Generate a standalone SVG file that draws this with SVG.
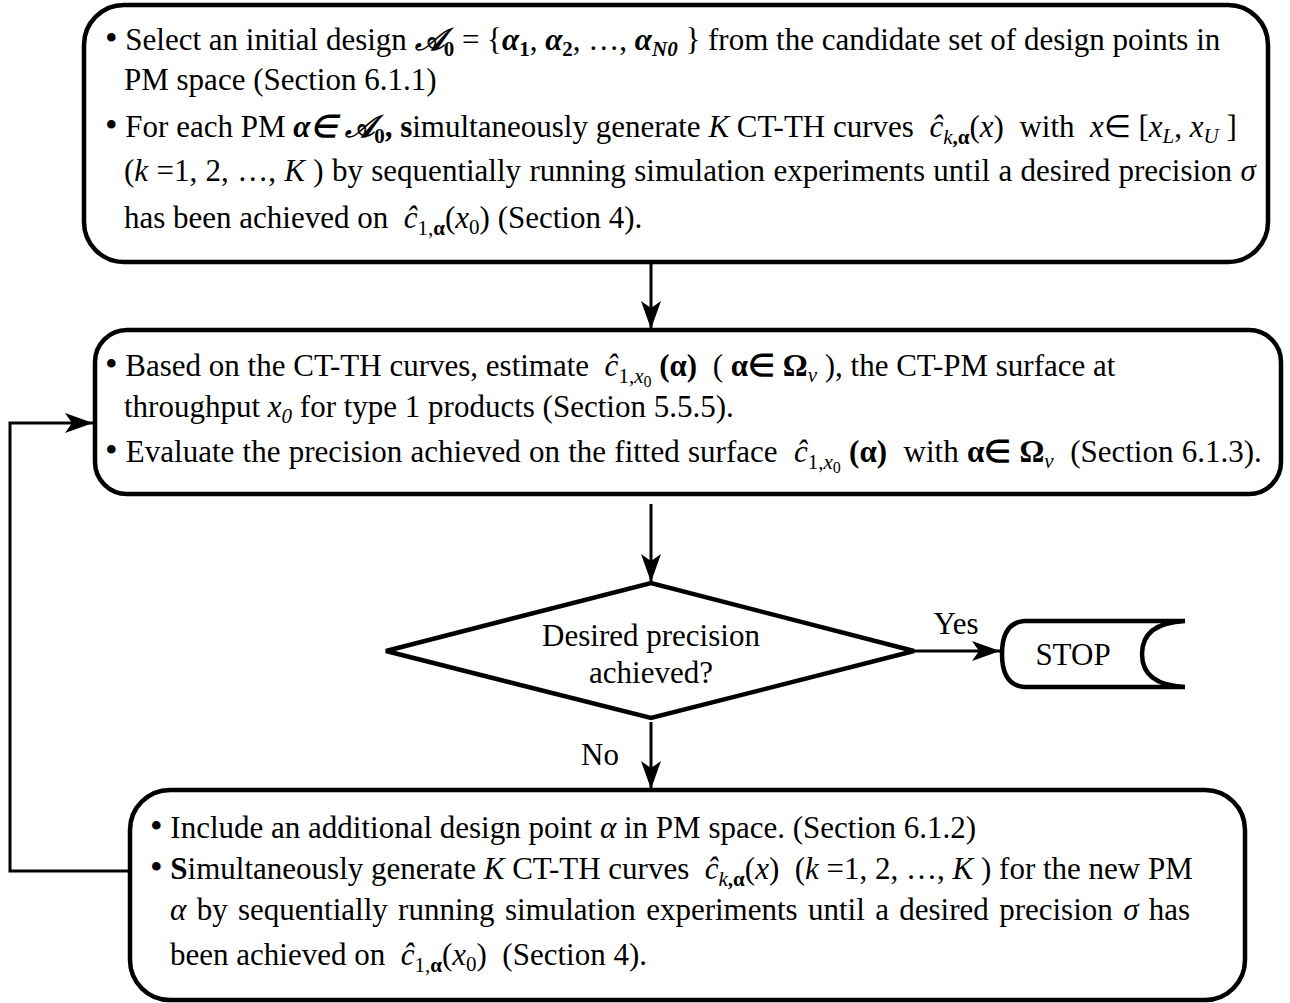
<svg xmlns="http://www.w3.org/2000/svg" width="1290" height="1003" viewBox="0 0 1290 1003">
  <style>
    .box { fill: #fff; stroke: #000; stroke-width: 4.5; }
    .wire { fill: none; stroke: #000; stroke-width: 3; }
    .t { font-family: "Liberation Serif", "Times New Roman", serif; font-size: 31px; fill: #000; }
    .i { font-style: italic; }
    .b { font-weight: bold; }
    .s { font-size: 21px; }
    .ss { font-size: 16px; }
    .dot { font-size: 36px; }
  </style>
  <defs>
    <marker id="arrow" markerUnits="userSpaceOnUse" markerWidth="32" markerHeight="24" refX="28" refY="12" orient="auto">
      <path d="M0,2 L28,12 L0,22 L7,12 Z" fill="#000"/>
    </marker>
  </defs>
  <rect width="1290" height="1003" fill="#fff"/>

  <!-- Initial design block -->
  <g id="init">
    <rect class="box" x="84" y="5" width="1184" height="257" rx="40" ry="40"/>
    <text class="t" x="105" y="50"><tspan class="dot">•</tspan> Select an initial design <tspan class="i b">𝒜</tspan><tspan class="s b" dy="6">0</tspan><tspan dy="-6"> = {</tspan><tspan class="i b">α</tspan><tspan class="s b" dy="6">1</tspan><tspan dy="-6">, </tspan><tspan class="i b">α</tspan><tspan class="s b" dy="6">2</tspan><tspan dy="-6">, …, </tspan><tspan class="i b">α</tspan><tspan class="s i b" dy="6">N0</tspan><tspan dy="-6">&#160;} from the candidate set of design points in</tspan></text>
    <text class="t" x="124" y="90">PM space (Section 6.1.1)</text>
    <text class="t" x="105" y="137"><tspan class="dot">•</tspan> For each PM <tspan class="i b">α∈ 𝒜</tspan><tspan class="s b" dy="6">0</tspan><tspan class="b" dy="-6">, s</tspan>imultaneously generate <tspan class="i">K</tspan> CT-TH curves&#160;&#160;<tspan class="i">ĉ</tspan><tspan class="s i" dy="7">k</tspan><tspan class="s b">,α</tspan><tspan dy="-7">(</tspan><tspan class="i">x</tspan>)&#160; with&#160; <tspan class="i">x</tspan>∈ [<tspan class="i">x</tspan><tspan class="s i" dy="6">L</tspan><tspan dy="-6">, </tspan><tspan class="i">x</tspan><tspan class="s i" dy="6">U</tspan><tspan dy="-6">&#160;]</tspan></text>
    <text class="t" x="124" y="181" word-spacing="0.6">(<tspan class="i">k</tspan> =1, 2, …, <tspan class="i">K</tspan> ) by sequentially running simulation experiments until a desired precision <tspan class="i">σ</tspan></text>
    <text class="t" x="124" y="228">has been achieved on&#160; <tspan class="i">ĉ</tspan><tspan class="s" dy="7">1,</tspan><tspan class="s b">α</tspan><tspan dy="-7">(</tspan><tspan class="i">x</tspan><tspan class="s" dy="6">0</tspan><tspan dy="-6">) (Section 4).</tspan></text>
  </g>

  <!-- Surface fitting block -->
  <g id="fit">
    <rect class="box" x="95" y="330" width="1186" height="164" rx="32" ry="32"/>
    <text class="t" x="105" y="376"><tspan class="dot">•</tspan> Based on the CT-TH curves, estimate&#160; <tspan class="i">ĉ</tspan><tspan class="s" dy="7">1,</tspan><tspan class="s i">x</tspan><tspan class="ss" dy="4">0</tspan><tspan class="b" dy="-11">&#160;(α)</tspan>&#160; ( <tspan class="b">α∈ Ω</tspan><tspan class="s i" dy="6">ν</tspan><tspan dy="-6"> ), the CT-PM surface at</tspan></text>
    <text class="t" x="124" y="417">throughput <tspan class="i">x</tspan><tspan class="s i" dy="6">0</tspan><tspan dy="-6"> for type 1 products (Section 5.5.5).</tspan></text>
    <text class="t" x="105" y="462" word-spacing="0.5"><tspan class="dot">•</tspan> Evaluate the precision achieved on the fitted surface&#160; <tspan class="i">ĉ</tspan><tspan class="s" dy="7">1,</tspan><tspan class="s i">x</tspan><tspan class="ss" dy="4">0</tspan><tspan class="b" dy="-11">&#160;(α)</tspan>&#160; with <tspan class="b">α∈ Ω</tspan><tspan class="s i" dy="6">ν</tspan><tspan dy="-6">&#160; (Section 6.1.3).</tspan></text>
  </g>

  <!-- Precision test -->
  <g id="check">
    <polygon class="box" points="386,651 651,583 914,651 651,718"/>
    <text class="t" x="651" y="646" text-anchor="middle">Desired precision</text>
    <text class="t" x="651" y="683" text-anchor="middle">achieved?</text>
  </g>

  <!-- Terminal -->
  <g id="stop">
    <path class="box" d="M1024,621 L1185,621 Q1142,623 1142,654 Q1142,685 1185,687 L1024,687 Q1002,685 1002,654 Q1002,623 1024,621 Z"/>
    <text class="t" x="1073" y="665" text-anchor="middle">STOP</text>
  </g>

  <!-- Add design point block -->
  <g id="add">
    <rect class="box" x="130" y="790" width="1115" height="210" rx="40" ry="40"/>
    <text class="t" x="150" y="838"><tspan class="dot">•</tspan> Include an additional design point <tspan class="i">α</tspan> in PM space. (Section 6.1.2)</text>
    <text class="t" x="150" y="879"><tspan class="dot">•</tspan> <tspan class="b">S</tspan>imultaneously generate <tspan class="i">K</tspan> CT-TH curves&#160; <tspan class="i">ĉ</tspan><tspan class="s i" dy="7">k</tspan><tspan class="s b">,α</tspan><tspan dy="-7">(</tspan><tspan class="i">x</tspan>)&#160; (<tspan class="i">k</tspan> =1, 2, …, <tspan class="i">K</tspan> ) for the new PM</text>
    <text class="t" x="170" y="920" word-spacing="2.6"><tspan class="i">α</tspan> by sequentially running simulation experiments until a desired precision <tspan class="i">σ</tspan> has</text>
    <text class="t" x="170" y="965">been achieved on&#160; <tspan class="i">ĉ</tspan><tspan class="s" dy="7">1,</tspan><tspan class="s b">α</tspan><tspan dy="-7">(</tspan><tspan class="i">x</tspan><tspan class="s" dy="6">0</tspan><tspan dy="-6">)&#160; (Section 4).</tspan></text>
  </g>

  <!-- Connectors -->
  <g id="connectors">
    <line class="wire" x1="651" y1="264" x2="651" y2="329" marker-end="url(#arrow)"/>
    <line class="wire" x1="651" y1="504" x2="651" y2="582" marker-end="url(#arrow)"/>
    <line class="wire" x1="651" y1="722" x2="651" y2="789" marker-end="url(#arrow)"/>
    <line class="wire" x1="914" y1="651" x2="1000" y2="651" marker-end="url(#arrow)"/>
    <polyline class="wire" points="130,871 10,871 10,423 93,423" marker-end="url(#arrow)"/>
    <text class="t" x="956" y="634" text-anchor="middle">Yes</text>
    <text class="t" x="600" y="765" text-anchor="middle">No</text>
  </g>
</svg>
